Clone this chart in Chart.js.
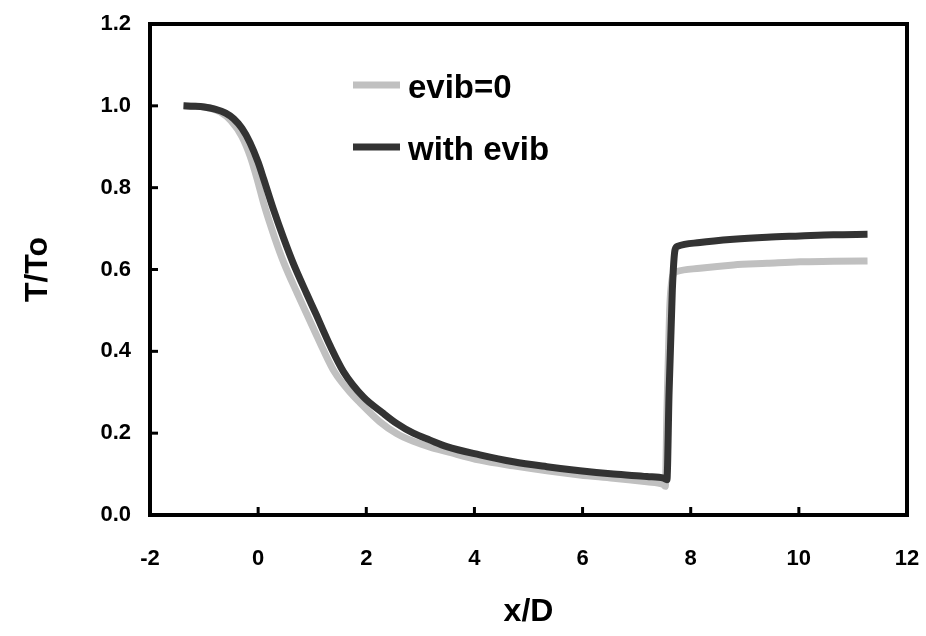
<!DOCTYPE html>
<html>
<head>
<meta charset="utf-8">
<script src="https://cdn.jsdelivr.net/npm/chart.js@4.4.0/dist/chart.umd.min.js"></script>
<style>
    html, body { margin: 0; padding: 0; background: #fff; }
    #tempChart { display: block; }
</style>
</head>
<body>
<canvas id="tempChart" width="926" height="636"></canvas>
<script>
let seriesLabels = ["evib=0", "with evib"];
let seriesColors = ["#c0c0c0", "#333333"];

let xNoVib = [-1.38, -1.0, -0.7, -0.5, -0.3, -0.15, -0.02, 0.11, 0.3, 0.48, 0.73, 0.91, 1.05, 1.2, 1.41, 1.7, 1.88, 2.25, 2.56, 2.87, 3.18, 3.49, 4.1, 4.72, 5.34, 5.95, 6.57, 7.19, 7.49, 7.53, 7.56, 7.61, 7.67, 7.74, 8.17, 8.79, 9.41, 10.02, 10.64, 11.27];
let yNoVib = [1.0, 0.997, 0.985, 0.963, 0.925, 0.878, 0.822, 0.758, 0.680, 0.615, 0.540, 0.488, 0.448, 0.405, 0.350, 0.300, 0.275, 0.228, 0.199, 0.180, 0.166, 0.155, 0.134, 0.120, 0.108, 0.098, 0.090, 0.081, 0.075, 0.070, 0.25, 0.50, 0.585, 0.595, 0.603, 0.611, 0.615, 0.619, 0.620, 0.621];

let xWithVib = [-1.38, -1.2, -1.0, -0.8, -0.6, -0.45, -0.3, -0.15, 0.0, 0.1, 0.28, 0.47, 0.65, 0.9, 1.08, 1.2, 1.33, 1.58, 1.95, 2.3, 2.56, 2.87, 3.18, 3.49, 4.1, 4.72, 5.34, 5.95, 6.57, 7.19, 7.5, 7.56, 7.6, 7.66, 7.71, 7.76, 8.17, 8.79, 9.41, 10.02, 10.64, 11.27];
let yWithVib = [1.0, 0.999, 0.997, 0.992, 0.982, 0.968, 0.945, 0.910, 0.862, 0.822, 0.748, 0.677, 0.615, 0.540, 0.488, 0.452, 0.414, 0.350, 0.288, 0.250, 0.224, 0.200, 0.183, 0.167, 0.147, 0.130, 0.118, 0.108, 0.100, 0.094, 0.090, 0.086, 0.30, 0.55, 0.648, 0.657, 0.666, 0.674, 0.679, 0.682, 0.685, 0.686];

let xTicks = [-2, 0, 2, 4, 6, 8, 10, 12];
let yTicks = [0, 0.2, 0.4, 0.6, 0.8, 1.0, 1.2];

const fontFamily = "'Liberation Sans', Arial, sans-serif";

document.addEventListener("DOMContentLoaded", () => {
    buildTempChart();
});

function toPoints(xs, ys) {
    return xs.map((x, i) => ({ x: x, y: ys[i] }));
}

// box around the plot + small inward ticks
let framePlugin = {
    id: "frame",
    afterDraw(chart) {
        let ctx = chart.ctx;
        let area = chart.chartArea;
        let xScale = chart.scales.x;
        let yScale = chart.scales.y;
        ctx.save();
        ctx.strokeStyle = "#000";
        ctx.lineWidth = 3;
        xTicks.forEach(v => {
            let px = xScale.getPixelForValue(v);
            ctx.beginPath();
            ctx.moveTo(px, area.bottom);
            ctx.lineTo(px, area.bottom - 8);
            ctx.stroke();
        });
        yTicks.forEach(v => {
            let py = yScale.getPixelForValue(v);
            ctx.beginPath();
            ctx.moveTo(area.left, py);
            ctx.lineTo(area.left + 8, py);
            ctx.stroke();
        });
        ctx.lineWidth = 4;
        ctx.strokeRect(area.left, area.top, area.right - area.left, area.bottom - area.top);
        ctx.restore();
    }
};

// legend in the upper middle of the plot
let legendPlugin = {
    id: "innerLegend",
    afterDraw(chart) {
        let ctx = chart.ctx;
        let area = chart.chartArea;
        let left = area.left + 203;
        let rows = [area.top + 61, area.top + 123];
        ctx.save();
        ctx.font = "bold 33px " + fontFamily;
        ctx.textBaseline = "middle";
        ctx.fillStyle = "#000";
        chart.data.datasets.forEach((ds, i) => {
            let y = rows[i];
            ctx.strokeStyle = ds.borderColor;
            ctx.lineWidth = 7;
            ctx.beginPath();
            ctx.moveTo(left, y);
            ctx.lineTo(left + 47, y);
            ctx.stroke();
            ctx.fillText(ds.label, left + 55, y + 4);
        });
        ctx.restore();
    }
};

function buildTempChart() {
    let ctx = document.getElementById("tempChart");

    new Chart(ctx, {
        type: "scatter",
        data: {
            datasets: [
                {
                    label: seriesLabels[0],
                    data: toPoints(xNoVib, yNoVib),
                    borderColor: seriesColors[0],
                    backgroundColor: seriesColors[0],
                    borderWidth: 7,
                    showLine: true,
                    pointRadius: 0,
                    cubicInterpolationMode: "monotone",
                    order: 2,
                },
                {
                    label: seriesLabels[1],
                    data: toPoints(xWithVib, yWithVib),
                    borderColor: seriesColors[1],
                    backgroundColor: seriesColors[1],
                    borderWidth: 7,
                    showLine: true,
                    pointRadius: 0,
                    cubicInterpolationMode: "monotone",
                    order: 1,
                },
            ],
        },
        options: {
            responsive: false,
            animation: false,
            layout: { padding: { left: 0, top: 24, right: 19, bottom: 0 } },
            plugins: {
                legend: { display: false },
                tooltip: { enabled: false },
            },
            scales: {
                x: {
                    type: "linear",
                    min: -2,
                    max: 12,
                    afterBuildTicks: (scale) => { scale.ticks = xTicks.map(v => ({ value: v })); },
                    afterFit: (scale) => {
                        scale.height = 121;
                        scale.paddingLeft = 0;
                        scale.paddingRight = 0;
                    },
                    grid: { display: false, drawTicks: false },
                    border: { display: false },
                    ticks: {
                        padding: 31,
                        color: "#000",
                        maxRotation: 0,
                        font: { family: fontFamily, size: 22, weight: "bold" },
                    },
                    title: {
                        display: true,
                        text: "x/D",
                        color: "#000",
                        padding: { bottom: 5 },
                        font: { family: fontFamily, size: 32, weight: "bold" },
                    },
                },
                y: {
                    type: "linear",
                    min: 0,
                    max: 1.2,
                    afterBuildTicks: (scale) => { scale.ticks = yTicks.map(v => ({ value: v })); },
                    afterFit: (scale) => {
                        scale.width = 150;
                        scale.paddingTop = 0;
                        scale.paddingBottom = 0;
                    },
                    grid: { display: false, drawTicks: false },
                    border: { display: false },
                    ticks: {
                        padding: 19,
                        color: "#000",
                        callback: (v) => Number(v).toFixed(1),
                        font: { family: fontFamily, size: 22, weight: "bold" },
                    },
                    title: {
                        display: true,
                        text: "T/To",
                        color: "#000",
                        padding: { top: 19 },
                        font: { family: fontFamily, size: 32, weight: "bold" },
                    },
                },
            },
        },
        plugins: [framePlugin, legendPlugin],
    });
}
</script>
</body>
</html>
